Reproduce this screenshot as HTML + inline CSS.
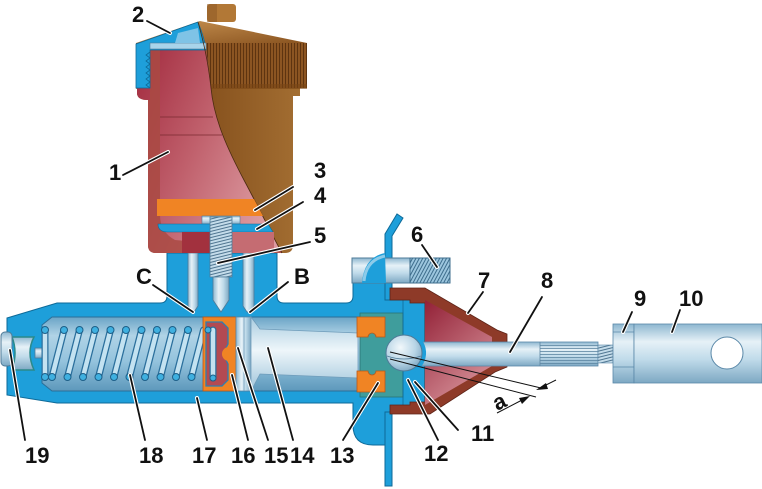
<!DOCTYPE html>
<html><head><meta charset="utf-8"><style>
html,body{margin:0;padding:0;background:#fff;}
svg{display:block;}
text{font-family:"Liberation Sans",Arial,sans-serif;font-weight:bold;font-size:22px;fill:#111;}
</style></head><body>
<svg width="762" height="489" viewBox="0 0 762 489" xmlns="http://www.w3.org/2000/svg">
<defs>
<linearGradient id="steelV" x1="0" y1="0" x2="0" y2="1">
<stop offset="0" stop-color="#8db7d0"/><stop offset="0.3" stop-color="#e6f1f7"/><stop offset="0.6" stop-color="#c0dbea"/><stop offset="1" stop-color="#7da8c3"/></linearGradient>
<linearGradient id="steelH" x1="0" y1="0" x2="1" y2="0">
<stop offset="0" stop-color="#8db7d0"/><stop offset="0.35" stop-color="#e6f1f7"/><stop offset="0.65" stop-color="#c0dbea"/><stop offset="1" stop-color="#7da8c3"/></linearGradient>
<linearGradient id="bore" x1="0" y1="0" x2="0" y2="1">
<stop offset="0" stop-color="#6aa4c6"/><stop offset="0.25" stop-color="#b0d3e6"/><stop offset="0.6" stop-color="#94c3dd"/><stop offset="1" stop-color="#5d98bb"/></linearGradient>
<linearGradient id="pist" x1="0" y1="0" x2="0" y2="1">
<stop offset="0" stop-color="#a9cce0"/><stop offset="0.45" stop-color="#eef6fa"/><stop offset="1" stop-color="#9ec4da"/></linearGradient>
<linearGradient id="brownG" x1="0" y1="0" x2="1" y2="0">
<stop offset="0" stop-color="#6c3c0e"/><stop offset="0.5" stop-color="#8a5520"/><stop offset="1" stop-color="#a36e32"/></linearGradient>
<linearGradient id="capTop" x1="0" y1="0" x2="1" y2="1">
<stop offset="0" stop-color="#c99352"/><stop offset="1" stop-color="#8a5420"/></linearGradient>
<linearGradient id="redG" x1="0" y1="0" x2="1" y2="0.6">
<stop offset="0" stop-color="#a22a3e"/><stop offset="0.5" stop-color="#c0606c"/><stop offset="1" stop-color="#dc9aa0"/></linearGradient>
<linearGradient id="coneG" x1="0" y1="0" x2="0.6" y2="1">
<stop offset="0" stop-color="#922036"/><stop offset="1" stop-color="#d69098"/></linearGradient>
<radialGradient id="ballG" cx="0.4" cy="0.35" r="0.7">
<stop offset="0" stop-color="#f2f8fb"/><stop offset="0.6" stop-color="#b8d5e6"/><stop offset="1" stop-color="#7ea7c2"/></radialGradient>
<pattern id="knurl" width="3" height="10" patternUnits="userSpaceOnUse"><rect width="3" height="10" fill="#8c5522"/><rect width="1" height="10" fill="#5e3410"/></pattern>
<pattern id="rodK" width="10" height="3" patternUnits="userSpaceOnUse"><rect width="10" height="3" fill="none"/><rect width="10" height="0.8" fill="#5d86a2"/></pattern>
<pattern id="thr" width="6" height="3" patternUnits="userSpaceOnUse" patternTransform="rotate(-14)"><rect width="6" height="3" fill="#c4dcea"/><rect y="2" width="6" height="1" fill="#4f7590"/></pattern>
<pattern id="thrV" width="3" height="6" patternUnits="userSpaceOnUse" patternTransform="rotate(28)"><rect width="3" height="6" fill="#9cc6de"/><rect x="2" width="1" height="6" fill="#3e6d8c"/></pattern>
</defs>
<rect width="762" height="489" fill="#fff"/>

<!-- flange plate -->
<path d="M385,486 L385,234 L397,214 L403,218 L392,236 L392,486 Z" fill="#1e9fda" stroke="#0e6a98" stroke-width="1"/>

<!-- main body -->
<path d="M7,318 L57,303 L160,303 Q167,303 167,296 L167,253 L277,253 L277,296 Q277,303 284,303 L346,303 Q353,303 353,296 L353,283 L385,283 L385,300 L425,300 L425,412 L385,412 L385,445 L373,445 Q353,445 353,425 L353,403 L57,403 L7,395 Z" fill="#1e9fda" stroke="#0e6a98" stroke-width="1"/>
<line x1="385" y1="412" x2="385" y2="486" stroke="#0e6a98" stroke-width="1"/>

<!-- bolt 6 -->
<rect x="352" y="258" width="58" height="25" fill="url(#steelV)" stroke="#4f7b98" stroke-width="1"/>
<rect x="410" y="258" width="40" height="25" fill="url(#thrV)" stroke="#3e6d8c" stroke-width="1"/>
<path d="M362,283 Q364,257 385,253 L386,283 Z" fill="#1e9fda"/>
<path d="M364,281 Q366,260 385,256" fill="none" stroke="#8ccbe9" stroke-width="3"/>

<!-- bore -->
<path d="M42,325 L52,317 L385,317 L385,391 L52,391 L42,383 Z" fill="url(#bore)" stroke="#2c6f98" stroke-width="1"/>

<!-- plug 19 -->
<path d="M35,348 L44,348 L44,358 L35,358 Z" fill="url(#steelV)" stroke="#4f7b98" stroke-width="0.8"/>
<path d="M12,337 L34,337 Q26,352 34,370 L12,370 Q18,352 12,337 Z" fill="url(#steelV)" stroke="#2a8a8a" stroke-width="1.5"/>
<rect x="1" y="332" width="11" height="34" rx="4" fill="url(#steelV)" stroke="#4f7b98" stroke-width="1"/>

<!-- spring 18 -->
<g stroke-linecap="round">
<g stroke="#2b6f9c" stroke-width="7">
<line x1="45" y1="330" x2="45" y2="377"/>
<line x1="64" y1="330" x2="52" y2="377"/><line x1="79.5" y1="330" x2="67.5" y2="377"/>
<line x1="95" y1="330" x2="83" y2="377"/><line x1="110.5" y1="330" x2="98.5" y2="377"/>
<line x1="126" y1="330" x2="114" y2="377"/><line x1="141.5" y1="330" x2="129.5" y2="377"/>
<line x1="157" y1="330" x2="145" y2="377"/><line x1="172.5" y1="330" x2="160.5" y2="377"/>
<line x1="188" y1="330" x2="176" y2="377"/><line x1="203.5" y1="330" x2="191.5" y2="377"/>
</g>
<g stroke="#c3e2f1" stroke-width="4.5">
<line x1="45" y1="330" x2="45" y2="377"/>
<line x1="64" y1="330" x2="52" y2="377"/><line x1="79.5" y1="330" x2="67.5" y2="377"/>
<line x1="95" y1="330" x2="83" y2="377"/><line x1="110.5" y1="330" x2="98.5" y2="377"/>
<line x1="126" y1="330" x2="114" y2="377"/><line x1="141.5" y1="330" x2="129.5" y2="377"/>
<line x1="157" y1="330" x2="145" y2="377"/><line x1="172.5" y1="330" x2="160.5" y2="377"/>
<line x1="188" y1="330" x2="176" y2="377"/><line x1="203.5" y1="330" x2="191.5" y2="377"/>
</g>
</g>
<g fill="#3fb0e0" stroke="#1d5f88" stroke-width="1">
<circle cx="45" cy="330" r="3.5"/><circle cx="64" cy="330" r="3.5"/><circle cx="79.5" cy="330" r="3.5"/><circle cx="95" cy="330" r="3.5"/><circle cx="110.5" cy="330" r="3.5"/><circle cx="126" cy="330" r="3.5"/><circle cx="141.5" cy="330" r="3.5"/><circle cx="157" cy="330" r="3.5"/><circle cx="172.5" cy="330" r="3.5"/><circle cx="188" cy="330" r="3.5"/>
<circle cx="45" cy="377" r="3.5"/><circle cx="52" cy="377" r="3.5"/><circle cx="67.5" cy="377" r="3.5"/><circle cx="83" cy="377" r="3.5"/><circle cx="98.5" cy="377" r="3.5"/><circle cx="114" cy="377" r="3.5"/><circle cx="129.5" cy="377" r="3.5"/><circle cx="145" cy="377" r="3.5"/><circle cx="160.5" cy="377" r="3.5"/><circle cx="176" cy="377" r="3.5"/><circle cx="191.5" cy="377" r="3.5"/>
</g>

<!-- cup 16 -->
<rect x="203" y="317" width="33" height="74" fill="#f08424" stroke="#b8581a" stroke-width="0.8"/>
<path d="M206,322 L222,322 L228,328 L228,344 Q222,354 228,364 L228,380 L222,386 L206,386 Z" fill="#b34a52" stroke="#2f7fb0" stroke-width="1.3"/>
<circle cx="229" cy="354" r="7" fill="#f08424"/>
<line x1="213" y1="330" x2="213" y2="378" stroke="#2b6f9c" stroke-width="7" stroke-linecap="round"/>
<line x1="213" y1="330" x2="213" y2="378" stroke="#c3e2f1" stroke-width="4.5" stroke-linecap="round"/>
<circle cx="208" cy="330" r="3" fill="#3fb0e0" stroke="#1d5f88"/><circle cx="213" cy="378" r="3" fill="#3fb0e0" stroke="#1d5f88"/>

<!-- piston 14/15 -->
<rect x="236" y="317" width="15" height="74" fill="url(#steelH)" stroke="#5a88a8" stroke-width="0.8"/>
<line x1="244" y1="317" x2="244" y2="391" stroke="#6f9cba" stroke-width="0.8"/>
<path d="M251,317 L260,329 L358,333 L358,378 L260,374 L251,391 Z" fill="url(#pist)" stroke="#6f9cba" stroke-width="0.8"/>

<!-- teal seat & seals 13 -->
<rect x="360" y="313" width="43" height="84" fill="#3f9d9c" stroke="#2a7574" stroke-width="0.8"/>
<path d="M357,317 L385,317 L385,337 L376,337 A4,4 0 0 0 368,337 L357,337 Z" fill="#f08424" stroke="#b8581a" stroke-width="0.8"/>
<path d="M357,371 L368,371 A4,4 0 0 0 376,371 L385,371 L385,392 L357,392 Z" fill="#f08424" stroke="#b8581a" stroke-width="0.8"/>
<line x1="403" y1="300" x2="403" y2="412" stroke="#0e6a98" stroke-width="0.8"/>

<!-- boot 7 -->
<path d="M390,288 L425,288 L497,330 L507,334 L507,367 L495,372 L430,414 L390,414 L390,405 L410,405 L410,402 L425,402 L425,303 L410,303 L410,300 L390,300 Z" fill="#8e3a28" stroke="#5e2418" stroke-width="0.8"/>
<path d="M425,300 L492,337 L492,366 L425,405 Z" fill="url(#coneG)"/>

<!-- rod 8 -->
<rect x="412" y="342" width="186" height="24" fill="url(#steelV)" stroke="#5a88a8" stroke-width="0.8"/>
<rect x="540" y="343" width="58" height="22" fill="url(#rodK)"/>
<line x1="540" y1="342" x2="540" y2="366" stroke="#5d86a2" stroke-width="0.8"/>
<rect x="598" y="345" width="15" height="18" fill="url(#thr)" stroke="#5a88a8" stroke-width="0.6"/>

<!-- ball & retainer -->
<path d="M409,314 L414,314 L414,336" fill="none" stroke="#1e9fda" stroke-width="3"/>
<path d="M413,335 A20,20 0 0 1 410,372" fill="none" stroke="#1e9fda" stroke-width="4"/>
<circle cx="404" cy="353" r="18" fill="url(#ballG)" stroke="#4f7b98" stroke-width="1"/>
<path d="M387,356 Q404,362 421,356" fill="none" stroke="#4f7b98" stroke-width="0.8"/>

<!-- nut 9 & clevis 10 -->
<rect x="613" y="324" width="21" height="59" fill="url(#steelV)" stroke="#5a88a8" stroke-width="0.8"/>
<line x1="613" y1="332" x2="634" y2="332" stroke="#5a88a8" stroke-width="0.8"/>
<line x1="613" y1="367" x2="634" y2="367" stroke="#5a88a8" stroke-width="0.8"/>
<rect x="634" y="324" width="128" height="59" fill="url(#steelV)" stroke="#5a88a8" stroke-width="0.8"/>
<circle cx="727" cy="353" r="16" fill="#fff" stroke="#5a88a8" stroke-width="1"/>

<!-- neck passages -->
<path d="M188,253 L198,253 L198,306 L194,312 L192,312 L188,306 Z" fill="url(#steelH)" stroke="#4f7b98" stroke-width="0.8"/>
<path d="M243,253 L254,253 L254,306 L250,312 L247,312 L243,306 Z" fill="url(#steelH)" stroke="#4f7b98" stroke-width="0.8"/>

<!-- reservoir exterior (brown) -->
<path d="M140,88 L300,88 L300,96 L293,96 L293,245 Q293,253 285,253 L156,253 Q148,253 148,245 L148,100 Q137,100 137,93 Z" fill="url(#brownG)"/>
<rect x="136" y="43" width="171" height="45" fill="url(#knurl)"/>
<rect x="136" y="84" width="171" height="5" fill="#7a4616" opacity="0.6"/>
<path d="M136,43 L200,21 L307,43 Z" fill="url(#capTop)"/>
<rect x="207" y="4" width="29" height="18" rx="3" fill="#b27836"/>
<rect x="207" y="4" width="10" height="18" fill="#8a5524" opacity="0.5"/>

<!-- red cut section -->
<path d="M150,50 L206,50 C208,62 210,75 211,88 C214,120 228,150 245,182 C260,210 272,235 282,253 L156,253 Q148,253 148,245 L148,100 Q137,100 137,93 L137,88 L150,88 Z" fill="url(#redG)"/>
<path d="M148,100 L160,100 L160,215 Q160,232 175,240 L282,250 L282,253 L156,253 Q148,253 148,245 Z" fill="#a94a43" opacity="0.85"/>
<rect x="150" y="50" width="10" height="50" fill="#a94a43" opacity="0.85"/>
<line x1="160" y1="117" x2="213" y2="117" stroke="#7a2a30" stroke-width="0.8"/>
<line x1="160" y1="135" x2="222" y2="135" stroke="#7a2a30" stroke-width="0.8"/>
<!-- cap blue cut -->
<path d="M136,44 L198,22 C202,32 205,42 206,50 L150,50 L150,88 L136,88 Z" fill="#1e9fda" stroke="#0e6a98" stroke-width="0.8"/>
<rect x="150" y="43" width="56" height="6" fill="#a9d4ea" stroke="#4f7b98" stroke-width="0.6"/>
<path d="M175,43 L178,33 L198,28 L200,43 Z" fill="#7fc3e6"/>
<path d="M150,52 l-4,3 l4,3 l-4,3 l4,3 l-4,3 l4,3 l-4,3 l4,3 l-4,3 l4,3 l-4,3 l4,3" fill="none" stroke="#0e6a98" stroke-width="0.8"/>
<path d="M198,22 C203,40 208,60 211,88 C214,120 228,150 245,182 C260,210 272,235 282,253" fill="none" stroke="#4a2a10" stroke-width="0.8"/>

<!-- filter 3, plate 4, lower block -->
<path d="M157,199 L254,199 L263,216 L157,216 Z" fill="#f08424"/>
<rect x="202" y="216" width="38" height="8" fill="url(#steelV)" stroke="#4f7b98" stroke-width="0.6"/>
<path d="M158,224 L268,224 L273,232 L168,232 Q158,232 158,224 Z" fill="#1e9fda" stroke="#0e6a98" stroke-width="0.6"/>
<rect x="182" y="232" width="28" height="21" fill="#a2313e"/>
<rect x="232" y="232" width="42" height="21" fill="#c56c72"/>

<!-- screw 5 -->
<rect x="210" y="217" width="22" height="60" fill="url(#thr)" stroke="#4f7b98" stroke-width="0.8"/>
<path d="M213,277 L229,277 L229,300 L221,312 L213,300 Z" fill="url(#steelH)" stroke="#4f7b98" stroke-width="0.8"/>

<!-- dimension a -->
<g stroke="#111" stroke-width="1" fill="none">
<line x1="390" y1="352" x2="541" y2="388"/>
<line x1="390" y1="359" x2="536" y2="397"/>
<line x1="497" y1="413" x2="524" y2="399"/>
<line x1="556" y1="380" x2="542" y2="387"/>
</g>
<path d="M530,396 L519,398 L522,404 Z" fill="#111"/>
<path d="M536,390 L546,383 L548,389 Z" fill="#111"/>
<text transform="translate(497,411) rotate(-26)">a</text>

<!-- leader lines -->
<g stroke-linecap="round">
<g stroke="#fff" stroke-width="4">
<line x1="147" y1="21" x2="170" y2="33"/><line x1="123" y1="175" x2="168" y2="152"/>
<line x1="293" y1="187" x2="255" y2="210"/><line x1="303" y1="202" x2="257" y2="229"/>
<line x1="310" y1="242" x2="218" y2="263"/><line x1="153" y1="285" x2="193" y2="312"/>
<line x1="288" y1="282" x2="250" y2="312"/><line x1="422" y1="245" x2="437" y2="267"/>
<line x1="483" y1="292" x2="468" y2="313"/><line x1="542" y1="297" x2="510" y2="352"/>
<line x1="632" y1="312" x2="623" y2="332"/><line x1="680" y1="310" x2="672" y2="332"/>
<line x1="458" y1="430" x2="415" y2="382"/><line x1="438" y1="440" x2="408" y2="380"/>
<line x1="10" y1="350" x2="25" y2="440"/><line x1="130" y1="375" x2="145" y2="440"/>
<line x1="197" y1="398" x2="207" y2="440"/><line x1="232" y1="375" x2="248" y2="440"/>
<line x1="238" y1="348" x2="268" y2="440"/><line x1="268" y1="348" x2="293" y2="440"/>
<line x1="378" y1="383" x2="343" y2="440"/>
</g>
<g stroke="#111" stroke-width="1.8">
<line x1="147" y1="21" x2="170" y2="33"/><line x1="123" y1="175" x2="168" y2="152"/>
<line x1="293" y1="187" x2="255" y2="210"/><line x1="303" y1="202" x2="257" y2="229"/>
<line x1="310" y1="242" x2="218" y2="263"/><line x1="153" y1="285" x2="193" y2="312"/>
<line x1="288" y1="282" x2="250" y2="312"/><line x1="422" y1="245" x2="437" y2="267"/>
<line x1="483" y1="292" x2="468" y2="313"/><line x1="542" y1="297" x2="510" y2="352"/>
<line x1="632" y1="312" x2="623" y2="332"/><line x1="680" y1="310" x2="672" y2="332"/>
<line x1="458" y1="430" x2="415" y2="382"/><line x1="438" y1="440" x2="408" y2="380"/>
<line x1="10" y1="350" x2="25" y2="440"/><line x1="130" y1="375" x2="145" y2="440"/>
<line x1="197" y1="398" x2="207" y2="440"/><line x1="232" y1="375" x2="248" y2="440"/>
<line x1="238" y1="348" x2="268" y2="440"/><line x1="268" y1="348" x2="293" y2="440"/>
<line x1="378" y1="383" x2="343" y2="440"/>
</g>
</g>

<!-- labels -->
<text x="132" y="22">2</text>
<text x="109" y="180">1</text>
<text x="314" y="178">3</text>
<text x="314" y="203">4</text>
<text x="314" y="243">5</text>
<text x="136" y="284">C</text>
<text x="294" y="284">B</text>
<text x="411" y="242">6</text>
<text x="478" y="288">7</text>
<text x="541" y="288">8</text>
<text x="634" y="306">9</text>
<text x="679" y="306">10</text>
<text x="471" y="441">11</text>
<text x="424" y="461">12</text>
<text x="330" y="463">13</text>
<text x="290" y="463">14</text>
<text x="264" y="463">15</text>
<text x="231" y="463">16</text>
<text x="192" y="463">17</text>
<text x="139" y="463">18</text>
<text x="25" y="463">19</text>
</svg>
</body></html>
